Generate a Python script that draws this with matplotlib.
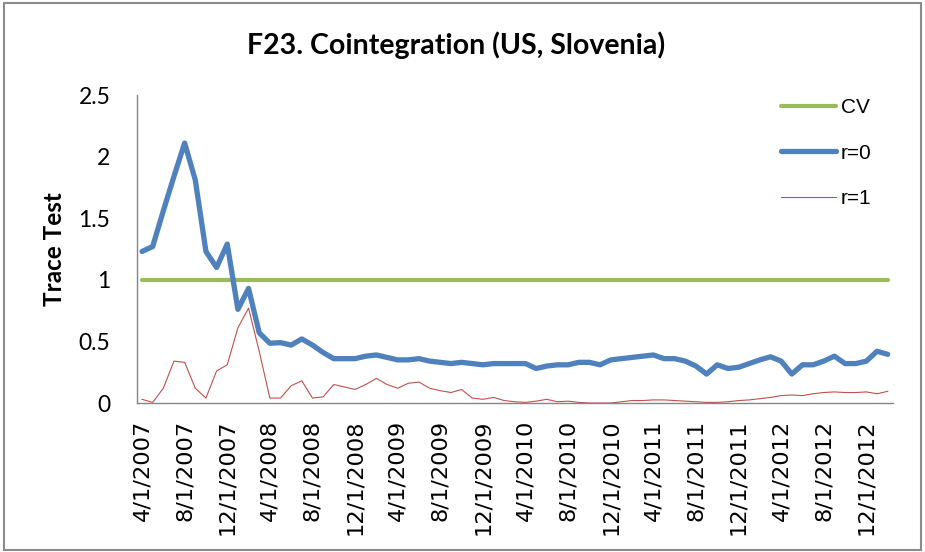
import numpy as np, pandas as pd, matplotlib as mpl
mpl.use("Agg")
import matplotlib.pyplot as plt
from matplotlib.patches import Rectangle

# monthly observations, 4/1/2007 .. 2/1/2013
dates = pd.date_range("2007-04-01", "2013-02-01", freq="MS")
tick_labels = [f"{d.month}/{d.day}/{d.year}" for d in dates[::4]]

cv = [1.0] * len(dates)
r0 = [1.23, 1.27, 1.56, 1.84, 2.11, 1.81, 1.23, 1.10, 1.29, 0.76,
      0.93, 0.57, 0.485, 0.49, 0.47, 0.52, 0.47, 0.41, 0.36, 0.36,
      0.36, 0.38, 0.39, 0.37, 0.35, 0.35, 0.36, 0.34, 0.33, 0.32,
      0.33, 0.32, 0.31, 0.32, 0.32, 0.32, 0.32, 0.28, 0.30, 0.31,
      0.31, 0.33, 0.33, 0.31, 0.35, 0.36, 0.37, 0.38, 0.39, 0.36,
      0.36, 0.34, 0.30, 0.235, 0.31, 0.28, 0.29, 0.32, 0.35, 0.375,
      0.34, 0.235, 0.31, 0.31, 0.34, 0.38, 0.32, 0.32, 0.34, 0.42,
      0.395]
r1 = [0.03, 0.005, 0.12, 0.34, 0.33, 0.12, 0.04, 0.26, 0.31, 0.61,
      0.77, 0.42, 0.04, 0.04, 0.14, 0.18, 0.04, 0.05, 0.15, 0.13,
      0.11, 0.15, 0.20, 0.15, 0.12, 0.16, 0.17, 0.12, 0.10, 0.085,
      0.11, 0.04, 0.03, 0.045, 0.02, 0.01, 0.005, 0.015, 0.03, 0.01,
      0.015, 0.005, 0.0, 0.0, 0.0, 0.01, 0.02, 0.02, 0.025, 0.025,
      0.02, 0.015, 0.01, 0.005, 0.005, 0.01, 0.02, 0.025, 0.035, 0.045,
      0.06, 0.065, 0.06, 0.075, 0.085, 0.09, 0.085, 0.085, 0.09, 0.075,
      0.095, 0.115][:len(dates)]

x = np.arange(len(dates))

fig = plt.figure(figsize=(9.25, 5.52), dpi=100)
ax = fig.add_axes([136.7 / 925, 149 / 552, (893 - 136.7) / 925, (403 - 95) / 552])

ax.plot(x, cv, color="#9BBB59", lw=3.0, label="CV", solid_capstyle="round")
ax.plot(x, r0, color="#4F81BD", lw=3.8, label="r=0", solid_capstyle="round")
ax.plot(x, r1, color="#C0504D", lw=0.8, label="r=1")

ax.set_xlim(-0.5, len(dates) - 0.5)
ax.set_ylim(0, 2.5)
ax.set_yticks([0, 0.5, 1, 1.5, 2, 2.5])
ax.set_yticklabels(["0", "0.5", "1", "1.5", "2", "2.5"], fontsize=16.5, family="Lato")
ax.set_xticks(x[::4])
ax.set_xticklabels(tick_labels, rotation=90, fontsize=16.2, family="DejaVu Sans")
ax.tick_params(length=0)
ax.tick_params(axis="y", pad=19)
ax.tick_params(axis="x", pad=12)
for s in ["top", "right"]:
    ax.spines[s].set_visible(False)
for s in ["left", "bottom"]:
    ax.spines[s].set_color("#868686")
    ax.spines[s].set_linewidth(1)

fig.text(55 / 925, 1 - 249 / 552, "Trace Test", rotation=90, ha="center", va="center",
         fontsize=17.5, fontweight="bold", family="Lato")
fig.text(456 / 925, 1 - 45 / 552, "F23. Cointegration (US, Slovenia)", ha="center", va="center",
         fontsize=20.5, fontweight="bold", family="Lato")

leg = ax.legend(loc="center left", bbox_to_anchor=(780.5 / 925, 1 - 153 / 552),
                bbox_transform=fig.transFigure, frameon=False, borderpad=0, borderaxespad=0,
                handlelength=2.65, handletextpad=0.25, labelspacing=1.28,
                prop={"family": "Liberation Sans", "size": 15})

fig.add_artist(Rectangle((4 / 925, 2 / 552), 917 / 925, 547 / 552, transform=fig.transFigure,
                         fill=False, edgecolor="#8c8c8c", lw=1.5))

fig.savefig("out.png", dpi=100)
